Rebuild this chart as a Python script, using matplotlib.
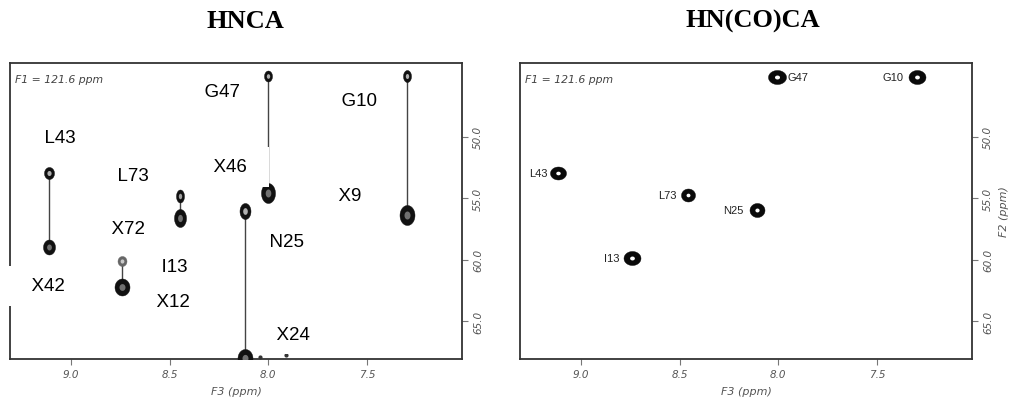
import matplotlib
matplotlib.use("Agg")
import matplotlib.pyplot as plt
import numpy as np
from matplotlib.path import Path

# ---------------- data ----------------
# HNCA strip: residue names, amide 1H shift (F3) and the two C-alpha shifts (F2)
hnca_names = ["G47", "G10", "L43", "L73", "N25", "I13"]
hnca_hn = [8.00, 7.30, 9.11, 8.45, 8.12, 8.74]
hnca_ca_a = [45.0, 45.0, 52.9, 54.8, 56.0, 60.1]
hnca_other_names = ["X46", "X9", "X42", "X72", "X24", "X12"]
hnca_ca_b = [54.6, 56.4, 59.0, 56.6, 68.0, 62.2]
noise_hn = [8.04, 7.91]
noise_ca = [67.9, 67.75]

# HN(CO)CA
hncoca_names = ["G47", "G10", "L43", "L73", "N25", "I13"]
hncoca_hn = [8.005, 7.30, 9.117, 8.46, 8.11, 8.74]
hncoca_ca = [45.1, 45.1, 52.9, 54.7, 55.95, 59.9]

x_ticks = [9.0, 8.5, 8.0, 7.5]
y_ticks = [50.0, 55.0, 60.0, 65.0]
titles = ["HNCA", "HN(CO)CA"]
plane_text = "F1 = 121.6 ppm"

# ---------------- layout / style ----------------
W, H = 1011, 410
XLIM = (9.309, 7.019)
YLIM = (68.09, 43.98)

# label anchor positions for HNCA (layout)
hnca_label_pos = {
    "G47": (8.235, 46.33), "G10": (7.540, 47.07), "L43": (9.056, 50.08),
    "L73": (8.686, 53.18), "X46": (8.194, 52.44), "X9": (7.586, 54.81),
    "X72": (8.711, 57.50), "N25": (7.905, 58.56), "I13": (8.478, 60.59),
    "X42": (9.117, 62.14), "X12": (8.483, 63.37), "X24": (7.875, 66.06),
}
label_order = ["G47", "L43", "G10", "X9", "L73", "X46", "X72", "N25",
               "I13", "X42", "X12", "X24"]
# peak sizes in px (w, h)
size_a = [(8, 11), (8, 12), (10, 12), (8, 13), (11, 16), (9, 10)]
inner_a = ["#b0b0b0", "#b0b0b0", "#b0b0b0", "#a0a0a0", "#b0b0b0", "#c8c8c8"]
outer_a = ["#111111"] * 5 + ["#666666"]
size_b = [(14, 20), (15, 20), (12, 15), (12, 18), (15, 18), (15, 17)]
size_c = [(18, 14), (17, 14), (16, 13), (14, 13), (15, 14), (17, 14)]
label_off_c = [(10, 0), (-13, 0), (-10, 0), (-11, 0), (-13, 0), (-13, 0)]

PT = 72.0 / 100.0  # points per pixel


def ell_path(w, h):
    t = np.linspace(0, 2 * np.pi, 60)
    verts = np.column_stack([w * np.cos(t), h * np.sin(t)])
    return Path(verts, closed=True)


def peak(ax, x, y, w, h, outer="#111111", inner="#aaaaaa", frac=0.42, z=3):
    ax.plot([x], [y], marker=ell_path(w, h), markersize=max(w, h) * PT,
            markerfacecolor=outer, markeredgecolor=outer, markeredgewidth=0.3,
            linestyle="none", zorder=z)
    ax.plot([x], [y], marker=ell_path(w, h), markersize=max(w, h) * PT * frac,
            markerfacecolor=inner, markeredgecolor=inner, markeredgewidth=0,
            linestyle="none", zorder=z + 0.1)


fig = plt.figure(figsize=(W / 100, H / 100), dpi=100)
fig.patch.set_facecolor("white")

tickfont = dict(family="DejaVu Sans", style="italic", size=7.5, color="#555555")


def setup(ax, show_f2):
    ax.set_xlim(*XLIM)
    ax.set_ylim(*YLIM)
    ax.set_xticks(x_ticks)
    ax.set_xticklabels([f"{v:.1f}" for v in x_ticks], **tickfont)
    ax.set_yticks(y_ticks)
    ax.set_yticklabels([f"{v:.1f}" for v in y_ticks], rotation=90,
                       va="center", **tickfont)
    ax.yaxis.tick_right()
    ax.tick_params(axis="both", direction="out", length=4, width=0.8,
                   color="#777777", pad=3)
    ax.tick_params(axis="y", pad=4)
    for s in ax.spines.values():
        s.set_color("#333333")
        s.set_linewidth(1.3)
    ax.set_xlabel("F3 (ppm)", family="DejaVu Sans", style="italic",
                  size=8, color="#555555", labelpad=5)
    if show_f2:
        ax.yaxis.set_label_position("right")
        ax.set_ylabel("F2 (ppm)", family="DejaVu Sans", style="italic",
                      size=8, color="#555555", rotation=90, labelpad=4)
    ax.text(0.012, 0.945, plane_text, transform=ax.transAxes,
            family="DejaVu Sans", style="italic", size=7.8, color="#444444",
            va="center", ha="left")


# ---------- left: HNCA ----------
ax1 = fig.add_axes([10 / W, (H - 360) / H, 452 / W, 296 / H])
setup(ax1, False)
for i in range(len(hnca_names)):
    ax1.plot([hnca_hn[i], hnca_hn[i]], [hnca_ca_a[i], hnca_ca_b[i]],
             color="#444444", lw=1.0, zorder=2)
for i in range(len(hnca_names)):
    w, h = size_a[i]
    peak(ax1, hnca_hn[i], hnca_ca_a[i], w, h, outer=outer_a[i], inner=inner_a[i])
    w, h = size_b[i]
    peak(ax1, hnca_hn[i], hnca_ca_b[i], w, h, inner="#707070", frac=0.4)
ax1.scatter(noise_hn, noise_ca, s=4, color="#333333", zorder=3)

for name in label_order:
    x, y = hnca_label_pos[name]
    ax1.text(x, y, "  " + name + "  ", family="Liberation Sans", size=13.5,
             color="black", ha="center", va="center", zorder=5, clip_on=False,
             bbox=dict(boxstyle="square,pad=0.6", facecolor="white",
                       edgecolor="none"))

# ---------- right: HN(CO)CA ----------
ax2 = fig.add_axes([520 / W, (H - 360) / H, 452 / W, 296 / H])
setup(ax2, True)
for i in range(len(hncoca_names)):
    w, h = size_c[i]
    peak(ax2, hncoca_hn[i], hncoca_ca[i], w, h, outer="#0a0a0a",
         inner="white", frac=0.28)
    dx, dy = label_off_c[i]
    ax2.annotate(hncoca_names[i], (hncoca_hn[i], hncoca_ca[i]),
                 xytext=(dx * PT, dy * PT), textcoords="offset points",
                 ha="left" if dx > 0 else "right", va="center",
                 family="Liberation Sans", size=8, color="#222222", zorder=5)

# ---------- titles ----------
fig.text(245 / W, 1 - 21 / H, titles[0], family="Liberation Serif",
         weight="bold", size=19, ha="center", va="center")
fig.text(753 / W, 1 - 21 / H, titles[1], family="Liberation Serif",
         weight="bold", size=19, ha="center", va="center")

fig.savefig("out.png", dpi=100, facecolor="white")
